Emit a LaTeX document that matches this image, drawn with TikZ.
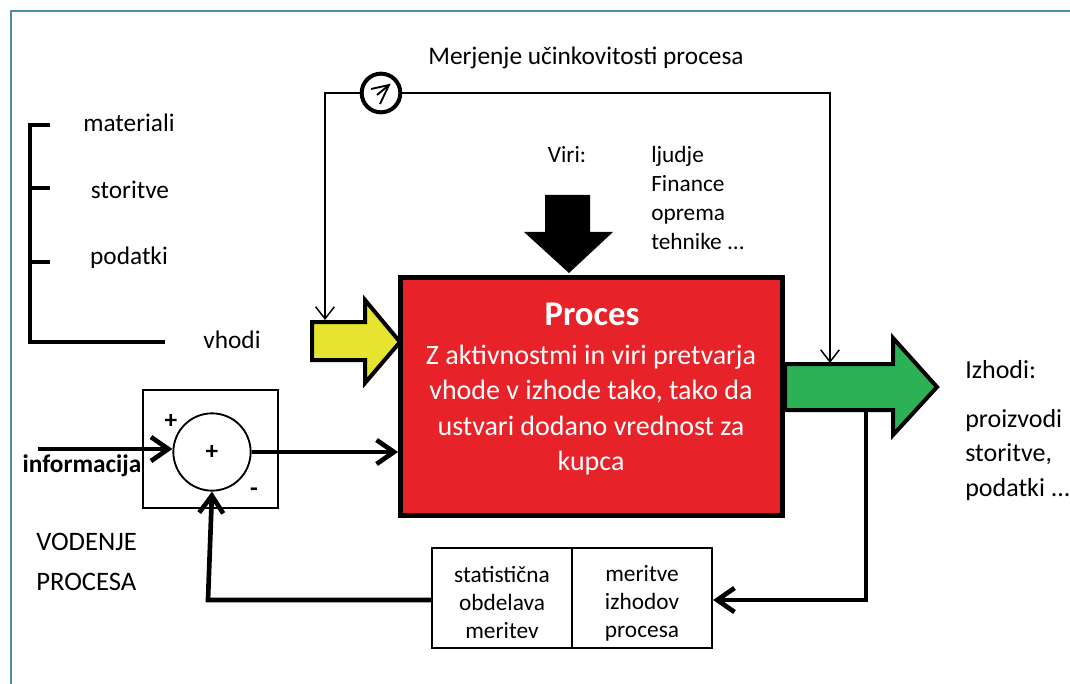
\documentclass[tikz,border=0pt]{standalone}
\usepackage{fontspec}
\setmainfont{Carlito}
\usetikzlibrary{arrows.meta}
\definecolor{framecol}{HTML}{4A8FA3}
\definecolor{procred}{HTML}{E82229}
\definecolor{inyellow}{HTML}{E6E430}
\definecolor{outgreen}{HTML}{2DB156}
\tikzset{
  lbl/.style={inner sep=0pt, font=\fontsize{19}{23}\selectfont},
  lbllist/.style={inner sep=0pt, align=left, font=\fontsize{17.5}{21.75}\selectfont},
  thickline/.style={line width=3.5pt},
  thickarr/.style={line width=3.5pt, -{Straight Barb[length=13pt,width=18pt,line width=3.5pt]}},
  thinarr/.style={line width=1.1pt},
  blockarrow/.style={draw=black, line width=3pt, line join=miter},
  measbox/.style={draw, line width=1.6pt, minimum width=105pt, minimum height=75pt, inner sep=0pt},
  meastext/.style={inner sep=0pt, align=center, font=\fontsize{17.5}{21}\selectfont},
}
\begin{document}
\begin{tikzpicture}[x=0.75pt,y=-0.75pt]
\useasboundingbox (0,0) rectangle (1070,684);
% frame
\draw[framecol, line width=1.5pt] (11,684) -- (11,11) -- (1070,11);

% left bracket of inputs
\draw[thickline] (50,125) -- (30,125) -- (30,342) -- (165,342);
\draw[thickline] (30,188) -- (50,188);
\draw[thickline] (30,262) -- (50,262);
\node[lbl] (mat) at (129,123) {materiali};
\node[lbl] (sto) at (130,190) {storitve};
\node[lbl] (pod) at (129,258) {podatki};
\node[lbl] (vho) at (232,340) {vhodi};

% title
\node[lbl] (title) at (586,58) {Merjenje učinkovitosti procesa};

% resources
\node[lbl, font=\fontsize{17.5}{21.75}\selectfont] (viri) at (567,155) {Viri:};
\node[lbllist, anchor=west] (virilist) at (651,198) {ljudje\\Finance\\oprema\\tehnike ...};
\fill[black] (545,195) -- (590,195) -- (590,232) -- (613,232) -- (569,273) -- (524,232) -- (545,232) -- cycle;

% process box
\node[draw=black, fill=procred, line width=3.75pt, minimum width=286.5pt, minimum height=178.5pt, inner sep=0pt] (proc) at (591.5,396.5) {};
\node[inner sep=0pt, text=white, font=\fontsize{26}{30}\selectfont\bfseries] (proctitle) at (592,314) {Proces};
\node[inner sep=0pt, text=white, align=center, font=\fontsize{21}{26.6}\selectfont] (procbody) at (591,410) {Z aktivnostmi in viri pretvarja\\vhode v izhode tako, tako da\\ustvari dodano vrednost za\\kupca};

% input (yellow) arrow
\filldraw[blockarrow, fill=inyellow] (312,322) -- (365,322) -- (365,300) -- (400,342) -- (365,383) -- (365,360) -- (312,360) -- cycle;
% output (green) arrow
\filldraw[blockarrow, fill=outgreen] (785,364) -- (893,364) -- (893,338) -- (937,387) -- (893,435) -- (893,410) -- (785,410) -- cycle;

% output labels
\node[lbl, anchor=west, font=\fontsize{19.5}{26}\selectfont] (izh) at (965,370) {Izhodi:};
\node[lbllist, anchor=west, font=\fontsize{19.5}{26}\selectfont] (izhlist) at (965,455) {proizvodi\\storitve,\\podatki ...};

% measurement loop (thin)
\coordinate (loopin) at (325,320);
\coordinate (loopout) at (830,363);
\draw[thinarr, {Straight Barb[length=9pt,width=14pt,line width=1.1pt]}-{Straight Barb[length=9pt,width=14pt,line width=1.1pt]}] (loopin) -- (325,93) -- (830,93) -- (loopout);
\node[circle, draw, fill=white, line width=3pt, minimum size=29pt, inner sep=0pt] (meter) at (381,93) {};
\draw[line width=1.4pt] ([shift={(-10,-4)}]meter.center) -- ([shift={(8,-8)}]meter.center) -- ([shift={(-1,11)}]meter.center);
\draw[line width=1.4pt] ([shift={(8,-8)}]meter.center) -- ([shift={(-4,2)}]meter.center);

% summing block
\node[draw, line width=1.6pt, minimum width=101pt, minimum height=88.5pt, inner sep=0pt] (sumbox) at (210.5,449) {};
\node[circle, draw, line width=1.4pt, minimum size=58pt, inner sep=0pt, font=\fontsize{19}{23}\selectfont\bfseries] (sum) at (212,452) {+};
\node[inner sep=0pt, font=\fontsize{19}{23}\selectfont\bfseries] (plus) at (171,421) {+};
\node[inner sep=0pt, font=\fontsize{19}{23}\selectfont\bfseries] (minus) at (254,492) {-};
\node[inner sep=0pt, font=\fontsize{19}{23}\selectfont\bfseries] (info) at (82,466) {informacija};
\coordinate (infoin) at (38,449);
\draw[thickarr] (infoin) -- (infoin -| sum.west);
\draw[thickarr] (sum.east) -- (sum.east -| proc.west);

\node[lbl, anchor=west, align=left, font=\fontsize{20}{30}\selectfont] (vod) at (36,562) {VODENJE\\PROCESA};

% measurement boxes
\node[measbox] (stat) at (502,598) {};
\node[measbox] (mer) at (642,598) {};
\node[meastext] (stattext) at (502,603) {statistična\\obdelava\\meritev};
\node[meastext] (mertext) at (642,603) {meritve\\izhodov\\procesa};

% feedback
\coordinate (fbstart) at (866,410);
\draw[thickarr] (fbstart) -- (866,600) -- (mer.east |- 0,600);
\draw[thickarr] (stat.west |- 0,600) -- (208,600) -- (sum.south);
\end{tikzpicture}
\end{document}
